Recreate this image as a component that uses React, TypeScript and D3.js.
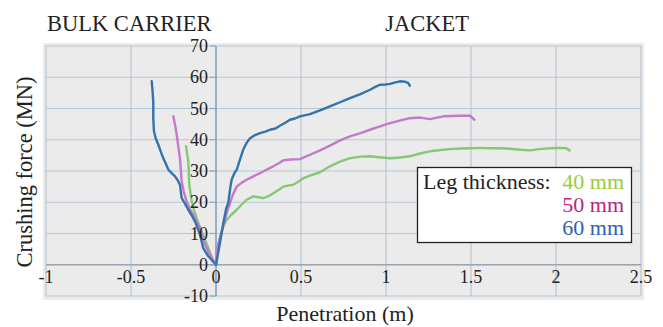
import React from "react";
import * as d3 from "d3";

const xTicks = [-1, -0.5, 0, 0.5, 1, 1.5, 2, 2.5];
const xTickLabels = ["-1", "-0.5", "0", "0.5", "1", "1.5", "2", "2.5"];
const yTicks = [-10, 0, 10, 20, 30, 40, 50, 60, 70];
const yTickLabels = ["-10", "0", "10", "20", "30", "40", "50", "60", "70"];

const seriesNames = ["40 mm", "50 mm", "60 mm"];

const jacket60: [number, number][] = [[0,0],[0.02,6],[0.043,13.3],[0.06,18],[0.072,19.7],[0.085,25],[0.092,27.2],[0.11,29.5],[0.122,30.4],[0.14,33.5],[0.16,36.8],[0.18,39],[0.2,40.5],[0.23,41.5],[0.259,42.1],[0.29,42.6],[0.318,43.2],[0.35,43.6],[0.376,44.5],[0.41,45.5],[0.435,46.4],[0.465,46.8],[0.494,47.5],[0.553,48.2],[0.612,49.4],[0.67,50.7],[0.73,52],[0.788,53.3],[0.85,54.6],[0.906,56],[0.94,57],[0.965,57.6],[1.0,57.7],[1.024,57.9],[1.05,58.3],[1.082,58.7],[1.11,58.6],[1.13,58.2],[1.14,57.3]];

const jacket50: [number, number][] = [[0,0],[0.004,4.8],[0.02,8],[0.043,12.3],[0.06,16],[0.082,19.7],[0.1,22.5],[0.122,25],[0.15,26.2],[0.18,27.2],[0.22,28.3],[0.259,29.3],[0.3,30.5],[0.337,31.5],[0.37,32.5],[0.396,33.4],[0.44,33.7],[0.494,33.8],[0.553,35.2],[0.612,36.6],[0.67,38.1],[0.73,39.8],[0.788,41.1],[0.85,42.1],[0.906,43.2],[0.96,44.2],[1.024,45.3],[1.08,46.1],[1.14,46.9],[1.2,47.1],[1.26,46.6],[1.3,47.1],[1.337,47.5],[1.39,47.6],[1.435,47.7],[1.494,47.7],[1.52,46.4]];

const jacket40: [number, number][] = [[0,0],[0.01,4],[0.024,9],[0.04,12],[0.063,14.4],[0.09,16],[0.122,17.6],[0.15,19.2],[0.18,20.8],[0.22,21.9],[0.25,21.6],[0.278,21.3],[0.31,22],[0.337,22.9],[0.37,24],[0.396,25],[0.43,25.4],[0.455,25.6],[0.49,26.8],[0.514,27.7],[0.553,28.5],[0.612,29.6],[0.67,31.5],[0.73,33],[0.788,34.1],[0.85,34.6],[0.906,34.7],[0.96,34.4],[1.024,34.1],[1.08,34.3],[1.14,34.7],[1.2,35.6],[1.26,36.3],[1.32,36.7],[1.376,37],[1.44,37.2],[1.494,37.3],[1.55,37.4],[1.61,37.3],[1.67,37.3],[1.73,37.1],[1.79,36.8],[1.847,36.6],[1.9,37],[1.965,37.3],[2.02,37.4],[2.06,37.3],[2.08,36.6]];

const bulk60: [number, number][] = [[0,0],[-0.02,1.2],[-0.045,2.7],[-0.06,4],[-0.075,5.3],[-0.085,7.5],[-0.094,9.6],[-0.11,12],[-0.124,13.9],[-0.145,16],[-0.163,17.6],[-0.185,19.8],[-0.202,21.3],[-0.207,23.5],[-0.212,25.6],[-0.225,27],[-0.241,28.3],[-0.262,29.4],[-0.28,30.4],[-0.295,32.3],[-0.31,34.1],[-0.325,36.2],[-0.339,38.4],[-0.355,40.5],[-0.365,42.7],[-0.369,47],[-0.369,52.3],[-0.373,55.5],[-0.378,58.7]];

const bulk50: [number, number][] = [[0,0],[-0.015,1.3],[-0.035,3.2],[-0.05,4.8],[-0.065,6.4],[-0.08,9],[-0.094,11.7],[-0.115,14],[-0.134,16],[-0.155,18],[-0.173,20.3],[-0.19,23.5],[-0.202,26.7],[-0.207,30.5],[-0.212,34.1],[-0.222,38],[-0.231,41.6],[-0.24,44.5],[-0.251,47.5]];

const bulk40: [number, number][] = [[0,0],[-0.016,1.1],[-0.03,3.2],[-0.045,5.3],[-0.065,8],[-0.084,10.7],[-0.1,12.8],[-0.114,14.9],[-0.13,17.6],[-0.143,20.3],[-0.15,23],[-0.157,25.6],[-0.16,29.5],[-0.163,33.1],[-0.17,35.5],[-0.176,37.9]];

const lineColors = ["#86c874", "#c57ac9", "#3274ab"];
const textColors = ["#9ccc34", "#b8257f", "#2d62b0"];

const FONT = "'Liberation Serif', 'Times New Roman', serif";

export default function App() {
  const W = 663, H = 327;
  const x = d3.scaleLinear().domain([-1, 2.5]).range([46, 641]);
  const y = d3.scaleLinear().domain([-10, 70]).range([296, 46]);
  const line = d3.line<[number, number]>().x(d => x(d[0])).y(d => y(d[1]));

  const curves = [
    { d: bulk40, c: lineColors[0] },
    { d: bulk50, c: lineColors[1] },
    { d: bulk60, c: lineColors[2] },
    { d: jacket40, c: lineColors[0] },
    { d: jacket50, c: lineColors[1] },
    { d: jacket60, c: lineColors[2] },
  ];

  return (
    <div style={{ position: "absolute", left: 0, top: 0 }}>
      <svg width={W} height={H} style={{ display: "block", background: "#fff" }}>
        <rect x={43} y={43} width={601} height={257} fill="#ebebeb" />
        {yTicks.map(t => (
          <line key={"gy" + t} x1={x(-1)} x2={x(2.5)} y1={y(t)} y2={y(t)} stroke="#b6c7d6" strokeWidth={1.2} />
        ))}
        {xTicks.map(t => (
          <line key={"gx" + t} x1={x(t)} x2={x(t)} y1={y(70)} y2={y(-10)} stroke="#b6c7d6" strokeWidth={1.2} />
        ))}
        <line x1={x(-1)} x2={x(2.5)} y1={y(0)} y2={y(0)} stroke="#9aa6b0" strokeWidth={1.6} />
        <line x1={x(0)} x2={x(0)} y1={y(70)} y2={y(-10)} stroke="#86a8c0" strokeWidth={1.6} />
        {yTicks.map(t => (
          <line key={"ty" + t} x1={x(0) - 6} x2={x(0)} y1={y(t)} y2={y(t)} stroke="#86a8c0" strokeWidth={1.2} />
        ))}
        {curves.map((c, i) => (
          <path key={i} d={line(c.d) || ""} fill="none" stroke={c.c} strokeWidth={2.4} strokeLinejoin="round" strokeLinecap="round" />
        ))}
        {yTicks.map((t, i) => (
          <text key={"ly" + t} x={208} y={y(t) + 6} textAnchor="end" fontFamily={FONT} fontSize={18} fill="#222">{yTickLabels[i]}</text>
        ))}
        {xTicks.map((t, i) => (
          <text key={"lx" + t} x={x(t)} y={283} textAnchor="middle" fontFamily={FONT} fontSize={18} fill="#222">{xTickLabels[i]}</text>
        ))}
        <text x={47} y={31} fontFamily={FONT} fontSize={22.5} fill="#222">BULK CARRIER</text>
        <text x={427} y={31} textAnchor="middle" fontFamily={FONT} fontSize={22.5} fill="#222">JACKET</text>
        <text x={345} y={321} textAnchor="middle" fontFamily={FONT} fontSize={22} fill="#222">Penetration (m)</text>
        <text transform="translate(32,172) rotate(-90)" textAnchor="middle" fontFamily={FONT} fontSize={22.5} fill="#222">Crushing force (MN)</text>
        <rect x={417.5} y={167.5} width={214} height={75} fill="#fff" stroke="#222" strokeWidth={1.3} />
        <text x={423} y={189} fontFamily={FONT} fontSize={22} fill="#222">Leg thickness:</text>
        {seriesNames.map((s, i) => (
          <text key={s} x={624} y={189 + i * 23} textAnchor="end" fontFamily={FONT} fontSize={22} fill={textColors[i]}>{s}</text>
        ))}
      </svg>
    </div>
  );
}
